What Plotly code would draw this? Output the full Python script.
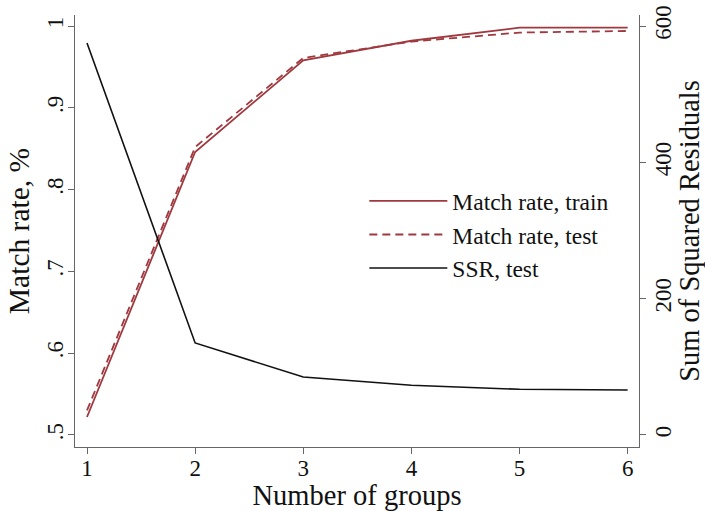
import plotly.graph_objects as go

groups = [1, 2, 3, 4, 5, 6]
match_train = [0.522, 0.846, 0.958, 0.982, 0.998, 0.998]
match_test = [0.530, 0.852, 0.961, 0.981, 0.992, 0.994]
ssr_test = [575, 135, 85, 73, 67, 66]

red = "#a0393f"
font = "Liberation Serif"

fig = go.Figure()
fig.add_trace(go.Scatter(x=groups, y=match_train, mode="lines", name="Match rate, train",
                         line=dict(color=red, width=1.8)))
fig.add_trace(go.Scatter(x=groups, y=match_test, mode="lines", name="Match rate, test",
                         line=dict(color=red, width=1.8, dash="8px,5px")))
fig.add_trace(go.Scatter(x=groups, y=ssr_test, mode="lines", name="SSR, test", yaxis="y2",
                         line=dict(color="#111111", width=1.6)))

axcol = "#666666"
y0, y1 = 0.4853, 1.0135
common = dict(showgrid=False, zeroline=False, showline=True, linecolor=axcol, linewidth=1.3,
              ticks="outside", ticklen=6, tickcolor=axcol, tickwidth=1.3, automargin=False,
              tickfont=dict(size=23))
tfont = dict(size=28.5)
fig.update_layout(
    width=705, height=511,
    margin=dict(l=75, r=66, t=15, b=64),
    paper_bgcolor="white", plot_bgcolor="white",
    font=dict(family=font, size=24, color="#111111"),
    showlegend=True,
    legend=dict(x=0.513, y=0.62, xanchor="left", yanchor="top", bgcolor="rgba(0,0,0,0)",
                font=dict(size=23.5), tracegroupgap=0, itemwidth=78),
    xaxis=dict(range=[0.889, 6.105], tickvals=groups, ticktext=[str(g) for g in groups],
               ticklabelstandoff=-6,
               title=dict(text="Number of groups", standoff=0, font=tfont), **common),
    yaxis=dict(range=[y0, y1], tickvals=[0.5, 0.6, 0.7, 0.8, 0.9, 1.0],
               ticktext=[".5", ".6", ".7", ".8", ".9", "1"], tickangle=-90,
               ticklabelstandoff=-4,
               title=dict(text="Match rate, %", standoff=4, font=dict(size=29.5)), **common),
    yaxis2=dict(range=[(y0 - 0.5) * 1200, (y1 - 0.5) * 1200], overlaying="y", side="right",
                tickvals=[0, 200, 400, 600], tickangle=-90, ticklabelstandoff=-3,
                title=dict(text="Sum of Squared Residuals", standoff=4, font=tfont), **common),
)
fig.write_html("out.html", config={"displayModeBar": False},
               post_script="document.body.style.margin='0px';")
